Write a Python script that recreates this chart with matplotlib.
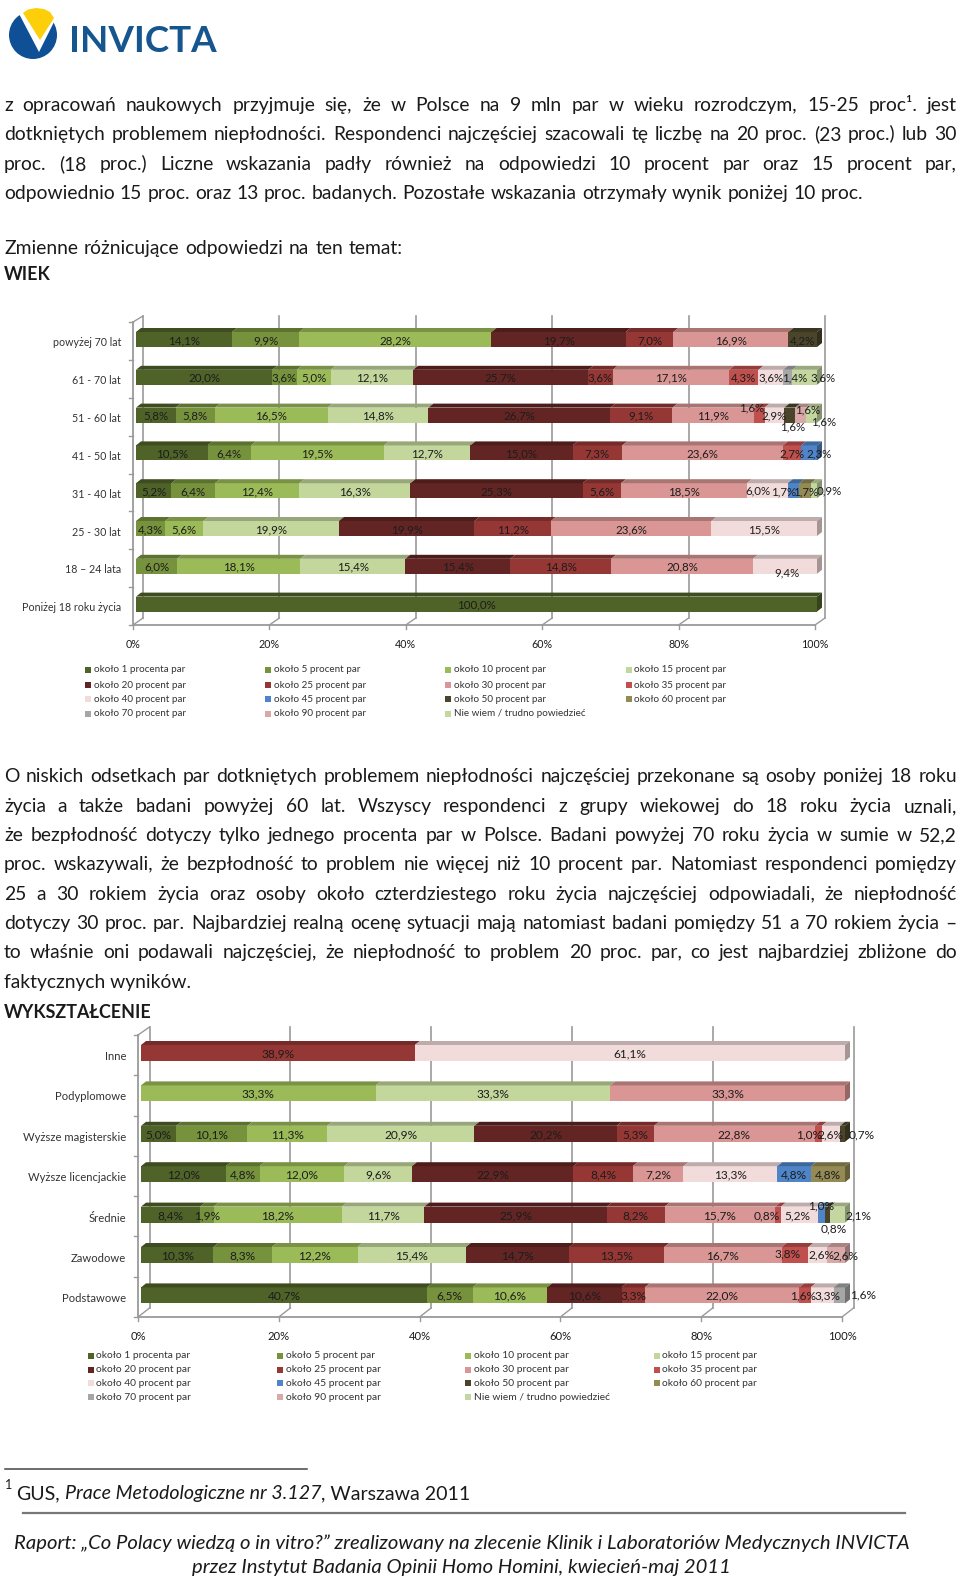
"""
Report page with two 100% stacked bar charts (age and education) drawn in a
fake 3D look, with the surrounding Polish text laid out in pixel coordinates.
"""

import matplotlib

matplotlib.use("Agg")
import matplotlib.pyplot as plt
from matplotlib.patches import Circle, Polygon, Rectangle

plt.rcParams["font.family"] = ["Lato", "DejaVu Sans"]

W, H = 960, 1580

series_names = [
    "około 1 procenta par", "około 5 procent par", "około 10 procent par", "około 15 procent par",
    "około 20 procent par", "około 25 procent par", "około 30 procent par", "około 35 procent par",
    "około 40 procent par", "około 45 procent par", "około 50 procent par", "około 60 procent par",
    "około 70 procent par", "około 90 procent par", "Nie wiem / trudno powiedzieć",
]
series_colors = [
    "#4f6228", "#76923c", "#9bbb59", "#c3d69b",
    "#632523", "#953735", "#d99694", "#c0504d",
    "#f2dcdb", "#4f85c8", "#4a452a", "#948a54",
    "#a6a6a6", "#d9a9a8", "#c4d7a0",
]

age_labels = ["powyżej 70 lat", "61 - 70 lat", "51 - 60 lat", "41 - 50 lat",
              "31 - 40 lat", "25 - 30 lat", "18 – 24 lata", "Poniżej 18 roku życia"]
# one value per series, same order as series_names
age_70plus = [14.1, 9.9, 28.2, 0, 19.7, 7.0, 16.9, 0, 0, 0, 4.2, 0, 0, 0, 0]
age_61_70 = [20.0, 3.6, 5.0, 12.1, 25.7, 3.6, 17.1, 4.3, 3.6, 0, 0, 0, 1.4, 0, 3.6]
age_51_60 = [5.8, 5.8, 16.5, 14.8, 26.7, 9.1, 11.9, 1.6, 2.9, 0, 1.6, 0, 0, 1.6, 1.6]
age_41_50 = [10.5, 6.4, 19.5, 12.7, 15.0, 7.3, 23.6, 2.7, 0, 2.3, 0, 0, 0, 0, 0]
age_31_40 = [5.2, 6.4, 12.4, 16.3, 25.3, 5.6, 18.5, 0, 6.0, 1.7, 0, 1.7, 0, 0, 0.9]
age_25_30 = [0, 4.3, 5.6, 19.9, 19.9, 11.2, 23.6, 0, 15.5, 0, 0, 0, 0, 0, 0]
age_18_24 = [0, 6.0, 18.1, 15.4, 15.4, 14.8, 20.8, 0, 9.4, 0, 0, 0, 0, 0, 0]
age_under18 = [100.0, 0, 0, 0, 0, 0, 0, 0, 0, 0, 0, 0, 0, 0, 0]
age_rows = [age_70plus, age_61_70, age_51_60, age_41_50, age_31_40, age_25_30, age_18_24, age_under18]

edu_labels = ["Inne", "Podyplomowe", "Wyższe magisterskie", "Wyższe licencjackie",
              "Średnie", "Zawodowe", "Podstawowe"]
edu_other = [0, 0, 0, 0, 0, 38.9, 0, 0, 61.1, 0, 0, 0, 0, 0, 0]
edu_postgrad = [0, 0, 33.3, 33.3, 0, 0, 33.3, 0, 0, 0, 0, 0, 0, 0, 0]
edu_master = [5.0, 10.1, 11.3, 20.9, 20.2, 5.3, 22.8, 1.0, 2.6, 0, 0.7, 0, 0, 0, 0]
edu_bachelor = [12.0, 4.8, 12.0, 9.6, 22.9, 8.4, 7.2, 0, 13.3, 4.8, 0, 4.8, 0, 0, 0]
edu_secondary = [8.4, 1.9, 18.2, 11.7, 25.9, 8.2, 15.7, 0.8, 5.2, 1.0, 0.8, 0, 0, 0, 2.1]
edu_vocational = [10.3, 8.3, 12.2, 15.4, 14.7, 13.5, 16.7, 3.8, 2.6, 0, 0, 0, 0, 2.6, 0]
edu_primary = [40.7, 6.5, 10.6, 0, 10.6, 3.3, 22.0, 1.6, 3.3, 0, 0, 0, 1.6, 0, 0]
edu_rows = [edu_other, edu_postgrad, edu_master, edu_bachelor, edu_secondary, edu_vocational, edu_primary]

percent_ticks = [0, 20, 40, 60, 80, 100]

# hand placed data labels in the original: (row, series) -> pixel shift
age_shift = {
    (1, 12): (7, 0), (1, 14): (18, 0),
    (2, 7): (-7, -8), (2, 10): (3, 11), (2, 13): (7, -6), (2, 14): (12, 6),
    (3, 9): (10, 0),
    (4, 8): (-9, -1), (4, 9): (-10, 0), (4, 14): (15, -1),
    (6, 8): (2, 6),
}
edu_shift = {
    (2, 7): (-9, 0), (2, 10): (19, 0),
    (4, 7): (-11, 0), (4, 8): (-2, 0), (4, 9): (0, -10), (4, 10): (6, 13), (4, 14): (21, 0),
    (5, 7): (-8, -2), (5, 8): (4, -1), (5, 13): (10, 0),
    (6, 7): (-2, 0), (6, 8): (5, 0), (6, 12): (24, -1),
}

para_1 = [
    "z opracowań naukowych przyjmuje się, że w Polsce na 9 mln par w wieku rozrodczym, 15-25 proc¹. jest",
    "dotkniętych problemem niepłodności. Respondenci najczęściej szacowali tę liczbę na 20 proc. (23 proc.) lub 30",
    "proc. (18 proc.) Liczne wskazania padły również na odpowiedzi 10 procent par oraz 15 procent par,",
]
para_1_last = "odpowiednio 15 proc. oraz 13 proc. badanych. Pozostałe wskazania otrzymały wynik poniżej 10 proc."
para_2 = [
    "O niskich odsetkach par dotkniętych problemem niepłodności najczęściej przekonane są osoby poniżej 18 roku",
    "życia a także badani powyżej 60 lat. Wszyscy respondenci z grupy wiekowej do 18 roku życia uznali,",
    "że bezpłodność dotyczy tylko jednego procenta par w Polsce. Badani powyżej 70 roku życia w sumie w 52,2",
    "proc. wskazywali, że bezpłodność to problem nie więcej niż 10 procent par. Natomiast respondenci pomiędzy",
    "25 a 30 rokiem życia oraz osoby około czterdziestego roku życia najczęściej odpowiadali, że niepłodność",
    "dotyczy 30 proc. par. Najbardziej realną ocenę sytuacji mają natomiast badani pomiędzy 51 a 70 rokiem życia –",
    "to właśnie oni podawali najczęściej, że niepłodność to problem 20 proc. par, co jest najbardziej zbliżone do",
]
para_2_last = "faktycznych wyników."

BODY = 13.9
BOLD = 12.9
FOOT = 14.6
TEXT_COLOR = "#1a1a1a"
AXIS_COLOR = "#9a9a9a"

fig = plt.figure(figsize=(W / 100, H / 100), dpi=100)
page = fig.add_axes([0, 0, 1, 1])
page.set_xlim(0, W)
page.set_ylim(H, 0)
page.axis("off")
renderer = fig.canvas.get_renderer()


def word_width(word, **kw):
    t = page.text(0, 0, word, **kw)
    w = t.get_window_extent(renderer).width
    t.remove()
    return w


def justified(line, y, left=4, right=957):
    words = line.split()
    widths = [word_width(w, fontsize=BODY) for w in words]
    gap = (right - left - sum(widths)) / (len(words) - 1)
    x = left
    for word, width in zip(words, widths):
        page.text(x, y, word, fontsize=BODY, color=TEXT_COLOR, va="baseline")
        x += width + gap


def shade(color, factor):
    r, g, b = matplotlib.colors.to_rgb(color)
    return (r * factor, g * factor, b * factor)


def draw_chart(rows, labels, shifts, box, depth, floor, font, data_font, label_right, tick_y,
               legend_x, legend_y, legend_font):
    # box = left, right, first row centre, row spacing, bar height (pixels)
    left, right, first, step, bar_px = box
    n = len(rows)
    top_px = first - step / 2
    ax = fig.add_axes([left / W, 1 - (top_px + n * step) / H, (right - left) / W, n * step / H])
    ax.set_xlim(0, 100)
    ax.set_ylim(n - 0.5, -0.5)
    ax.axis("off")
    ppx = 100 / (right - left)
    dx, dy = depth[0] * ppx, depth[1] / step
    bar_h = bar_px / step

    # walls, floor and gridlines sit behind the bars
    fx0, fx1, fy, wall_top, back_dx, back_dy, gy_top = floor
    to_x = lambda px: (px - left) * ppx
    to_y = lambda px: (px - first) / step
    ax.plot([to_x(fx0), to_x(fx0)], [to_y(wall_top), to_y(fy)], color=AXIS_COLOR, lw=1.3, clip_on=False)
    ax.plot([to_x(fx0), to_x(fx1)], [to_y(fy), to_y(fy)], color=AXIS_COLOR, lw=1.3, clip_on=False)
    ax.plot([to_x(fx0), to_x(fx0 + back_dx)], [to_y(wall_top), to_y(gy_top)], color=AXIS_COLOR, lw=1.0, clip_on=False)
    for i in range(n + 1):
        tick = wall_top + (fy - wall_top) * i / n
        ax.plot([to_x(fx0 - 4), to_x(fx0)], [to_y(tick), to_y(tick)], color=AXIS_COLOR, lw=1.0, clip_on=False)
    for p in percent_ticks:
        px = fx0 + (fx1 - fx0) * p / 100
        ax.plot([to_x(px + back_dx)] * 2, [to_y(gy_top), to_y(fy - back_dy)], color=AXIS_COLOR, lw=1.2, clip_on=False)
        ax.plot([to_x(px + back_dx), to_x(px)], [to_y(fy - back_dy), to_y(fy)], color=AXIS_COLOR, lw=1.0, clip_on=False)
        ax.plot([to_x(px)] * 2, [to_y(fy), to_y(fy + 4)], color=AXIS_COLOR, lw=1.0, clip_on=False)
        page.text(px, tick_y, f"{p}%", fontsize=font, color=TEXT_COLOR, ha="center", va="center")

    for i, values in enumerate(rows):
        total = sum(values)
        cum = 0
        last_color = None
        for s, v in enumerate(values):
            if v == 0:
                continue
            w = v / total * 100
            ax.barh(i, w, left=cum, height=bar_h, color=series_colors[s], linewidth=0, zorder=3)
            ytop = i - bar_h / 2
            ax.add_patch(Polygon([(cum, ytop), (cum + w, ytop), (cum + w + dx, ytop - dy), (cum + dx, ytop - dy)],
                                 closed=True, facecolor=shade(series_colors[s], 0.78), linewidth=0,
                                 zorder=3, clip_on=False))
            cum += w
            last_color = series_colors[s]
        ax.add_patch(Polygon([(100, i - bar_h / 2), (100 + dx, i - bar_h / 2 - dy),
                              (100 + dx, i + bar_h / 2 - dy), (100, i + bar_h / 2)],
                             closed=True, facecolor=shade(last_color, 0.68), linewidth=0, zorder=3, clip_on=False))
        page.text(label_right, first + i * step + 3.5, labels[i], fontsize=font, color="#333333", ha="right", va="center")

    # data labels go on top of all bars
    for i, values in enumerate(rows):
        total = sum(values)
        cum = 0
        for s, v in enumerate(values):
            if v == 0:
                continue
            w = v / total * 100
            sx, sy = shifts.get((i, s), (0, 0))
            ax.text(cum + w / 2 + sx * ppx, i + (sy + 1) / step, f"{v:.1f}%".replace(".", ","),
                    fontsize=data_font, color="#1c1c1c", ha="center", va="center", zorder=6, clip_on=False)
            cum += w

    # legend is laid out row by row, four entries to a row
    for k, name in enumerate(series_names):
        col, row = k % 4, k // 4
        page.add_patch(Rectangle((legend_x[col], legend_y[row] - 3), 6, 6, facecolor=series_colors[k], linewidth=0))
        page.text(legend_x[col] + 8.5, legend_y[row], name, fontsize=legend_font, color="#333333", va="center")


# logo
page.add_patch(Circle((33, 35), 24, facecolor="#0f4f96", linewidth=0))
page.add_patch(Polygon([(16, 8), (39, 52), (61, 8)], closed=True, facecolor="white", linewidth=0))
page.add_patch(Polygon([(23, 13), (28, 9.5), (36, 8), (44, 9), (50, 12), (54, 18), (40, 40)],
                       closed=True, facecolor="#fdcf0a", linewidth=0))
page.text(69, 52.5, "INVICTA", fontsize=26.5, fontweight="bold", color="#15568f", va="baseline")

# first block of text
for line, y in zip(para_1, [111, 140, 170]):
    justified(line, y)
justified(para_1_last, 199, right=863.5)
justified("Zmienne różnicujące odpowiedzi na ten temat:", 254, right=403)
page.text(4, 280, "WIEK", fontsize=BOLD, fontweight="bold", color=TEXT_COLOR, va="baseline")

draw_chart(age_rows, age_labels, age_shift,
           box=(136, 817, 339.5, 37.8, 15), depth=(5, 4),
           floor=(133, 815, 625, 322, 10, 7, 316),
           font=7.7, data_font=8.3, label_right=121, tick_y=645,
           legend_x=[85, 265, 445, 626], legend_y=[670, 685, 699, 714], legend_font=7.1)

# second block of text
for line, y in zip(para_2, [782, 812, 841, 870, 900, 929, 958]):
    justified(line, y)
page.text(4, 988, para_2_last, fontsize=BODY, color=TEXT_COLOR, va="baseline")
page.text(4, 1018, "WYKSZTAŁCENIE", fontsize=BOLD, fontweight="bold", color=TEXT_COLOR, va="baseline")

draw_chart(edu_rows, edu_labels, edu_shift,
           box=(141, 845, 1053, 40.4, 16), depth=(5, 4),
           floor=(138, 842, 1317, 1035, 11.5, 9, 1027),
           font=8.1, data_font=8.6, label_right=126, tick_y=1337,
           legend_x=[88, 277, 465, 654], legend_y=[1356, 1370, 1383, 1397], legend_font=7.35)

# footnote and footer
page.plot([5, 307], [1469, 1469], color="#444444", lw=1.1)
page.text(5, 1489, "1", fontsize=9, color=TEXT_COLOR, va="baseline")
x = 16
for part, style in [("GUS, ", "normal"), ("Prace Metodologiczne nr 3.127", "italic"), (", Warszawa 2011", "normal")]:
    page.text(x, 1499, part.strip(), fontsize=14.1, fontstyle=style, color=TEXT_COLOR, va="baseline")
    x += word_width(part.strip(), fontsize=14.1, fontstyle=style) + (5 if part.endswith(" ") else 0)
page.plot([23, 905], [1513, 1513], color="#777777", lw=1.6)
page.text(461.5, 1549, "Raport: „Co Polacy wiedzą o in vitro?” zrealizowany na zlecenie Klinik i Laboratoriów Medycznych INVICTA",
          fontsize=FOOT, fontstyle="italic", color=TEXT_COLOR, ha="center", va="baseline")
page.text(461, 1573, "przez Instytut Badania Opinii Homo Homini, kwiecień-maj 2011",
          fontsize=FOOT, fontstyle="italic", color=TEXT_COLOR, ha="center", va="baseline")

fig.savefig("out.png", dpi=100)
